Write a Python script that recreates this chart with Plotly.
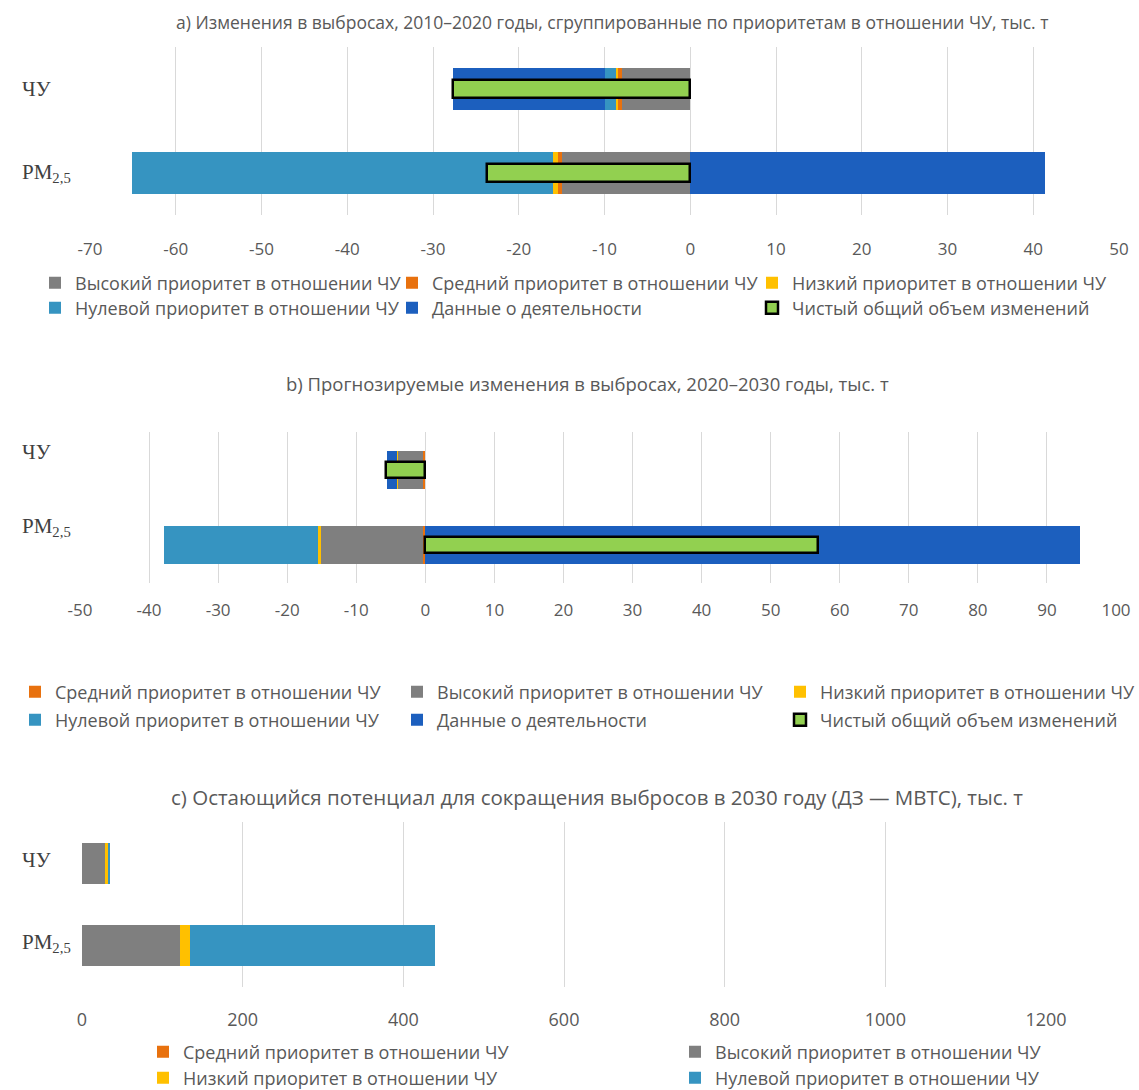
import plotly.graph_objects as go

# ---------------- data ----------------
cats = ['ЧУ', 'PM<sub>2,5</sub>']

names = {
    'high': 'Высокий приоритет в отношении ЧУ',
    'med': 'Средний приоритет в отношении ЧУ',
    'low': 'Низкий приоритет в отношении ЧУ',
    'zero': 'Нулевой приоритет в отношении ЧУ',
    'act': 'Данные о деятельности',
    'net': 'Чистый общий объем изменений',
}

# a) 2010-2020
a_high = [-8.0, -14.9]
a_med = [-0.45, -0.55]
a_low = [-0.2, -0.5]
a_zero = [-1.35, -49.2]
a_act = [-17.7, 41.4]
a_net = [-27.7, -23.7]

# b) 2020-2030
b_med = [-0.3, -0.35]
b_high = [-3.7, -14.7]
b_low = [-0.1, -0.5]
b_zero = [0.0, -22.3]
b_act = [-1.5, 94.8]
b_net = [-5.65, 56.9]

# c) remaining potential 2030
c_med = [0.3, 0.5]
c_high = [28.6, 121.1]
c_low = [3.3, 13.3]
c_zero = [2.5, 304.2]

a_ticks = list(range(-70, 51, 10))
b_ticks = list(range(-50, 101, 10))
c_ticks = list(range(0, 1201, 200))

titles = [
    'a) Изменения в выбросах, 2010–2020 годы, сгруппированные по приоритетам в отношении ЧУ, тыс. т',
    'b) Прогнозируемые изменения в выбросах, 2020–2030 годы, тыс. т',
    'c) Остающийся потенциал для сокращения выбросов в 2030 году (ДЗ — МВТС), тыс. т',
]

# ---------------- style ----------------
colors = {
    'high': '#7F7F7F', 'med': '#E8710E', 'low': '#FFC000',
    'zero': '#3694C1', 'act': '#1C5FBE', 'net': '#92D050',
}
W, H = 1139, 1090
FONT = 'Open Sans'
TXT = '#595959'
GRID = '#D9D9D9'

def px(x):
    return x / W

def py(y):
    return 1 - y / H

fig = go.Figure()
legend_layout = {}
leg_count = [0]

def bar(key, vals, xa, ya, leg_pos, width=0.5):
    line = dict(width=0)
    if key == 'net':
        line = dict(width=2.5, color='black')
    leg_count[0] += 1
    lid = 'legend' if leg_count[0] == 1 else 'legend%d' % leg_count[0]
    tx, ty = leg_pos
    legend_layout[lid] = dict(x=px(tx - 40), y=py(ty), xanchor='left',
                              yanchor='middle', orientation='v',
                              bgcolor='rgba(0,0,0,0)',
                              font=dict(family=FONT, size=18, color=TXT))
    fig.add_trace(go.Bar(
        y=cats, x=vals, orientation='h', name=names[key],
        marker=dict(color=colors[key], line=line),
        xaxis=xa, yaxis=ya, legend=lid, width=width, showlegend=True,
    ))

# panel a  (legend text x, row centre y)
bar('high', a_high, 'x', 'y', (75, 283))
bar('med', a_med, 'x', 'y', (432, 283))
bar('low', a_low, 'x', 'y', (792, 283))
bar('zero', a_zero, 'x', 'y', (75, 308))
bar('act', a_act, 'x', 'y', (432, 308))
bar('net', a_net, 'x', 'y4', (792, 308), width=0.21)

# panel b
bar('med', b_med, 'x2', 'y2', (55, 692))
bar('high', b_high, 'x2', 'y2', (437, 692))
bar('low', b_low, 'x2', 'y2', (820, 692))
bar('zero', b_zero, 'x2', 'y2', (55, 720))
bar('act', b_act, 'x2', 'y2', (437, 720))
bar('net', b_net, 'x2', 'y5', (820, 720), width=0.21)

# panel c
bar('med', c_med, 'x3', 'y3', (183, 1052))
bar('high', c_high, 'x3', 'y3', (715, 1052))
bar('low', c_low, 'x3', 'y3', (183, 1078))
bar('zero', c_zero, 'x3', 'y3', (715, 1078))

def xax(domain, ticks, size, standoff, anchor):
    return dict(domain=domain, range=[ticks[0], ticks[-1]], anchor=anchor,
                tickmode='array', tickvals=ticks,
                ticktext=[str(t) for t in ticks],
                showgrid=True, gridcolor=GRID, gridwidth=1.4,
                zeroline=False, showline=False, ticks='',
                tickfont=dict(family=FONT, size=size, color=TXT),
                ticklabelstandoff=standoff, fixedrange=True)

def yax(domain, anchor, overlay=None):
    d = dict(type='category', categoryorder='array', categoryarray=cats,
             range=[1.5, -0.5], anchor=anchor, showgrid=False,
             showticklabels=False, zeroline=False, showline=False, ticks='',
             fixedrange=True)
    if overlay:
        d['overlaying'] = overlay
        d['visible'] = False
    else:
        d['domain'] = domain
    return d

layout = dict(
    width=W, height=H, barmode='relative', showlegend=True,
    paper_bgcolor='white', plot_bgcolor='white',
    margin=dict(l=0, r=0, t=0, b=0, autoexpand=False),
    font=dict(family=FONT, color=TXT),
    xaxis=xax([px(90), px(1119)], a_ticks, 17, 22, 'y'),
    yaxis=yax([py(215), py(47)], 'x'),
    yaxis4=yax(None, 'x', overlay='y'),
    xaxis2=xax([px(80), px(1116)], b_ticks, 17, 15, 'y2'),
    yaxis2=yax([py(583), py(432)], 'x2'),
    yaxis5=yax(None, 'x2', overlay='y2'),
    xaxis3=xax([px(82), px(1046)], c_ticks, 18, 20, 'y3'),
    yaxis3=yax([py(987), py(822)], 'x3'),
    bargap=0,
)
layout.update(legend_layout)
fig.update_layout(**layout)

# titles
title_specs = [(612, 22, 17.5), (587, 383, 18.5), (597, 797, 20.5)]
for t, (tx, ty, sz) in zip(titles, title_specs):
    fig.add_annotation(text=t, x=px(tx), y=py(ty), xref='paper', yref='paper',
                       showarrow=False, xanchor='center', yanchor='middle',
                       font=dict(family=FONT, size=sz, color=TXT))

# category labels
for ya, shift in (('y', 0), ('y2', 18), ('y3', 3)):
    for i, c in enumerate(cats):
        fig.add_annotation(text=c, x=px(20), y=i, xref='paper', yref=ya,
                           showarrow=False, xanchor='left', yanchor='middle',
                           yshift=shift,
                           font=dict(family='Liberation Serif', size=21,
                                     color='#404040'))

fig.write_html('out.html',
               config={'displayModeBar': False},
               post_script="document.body.style.margin='0px';"
                           "document.body.style.overflow='hidden';")
